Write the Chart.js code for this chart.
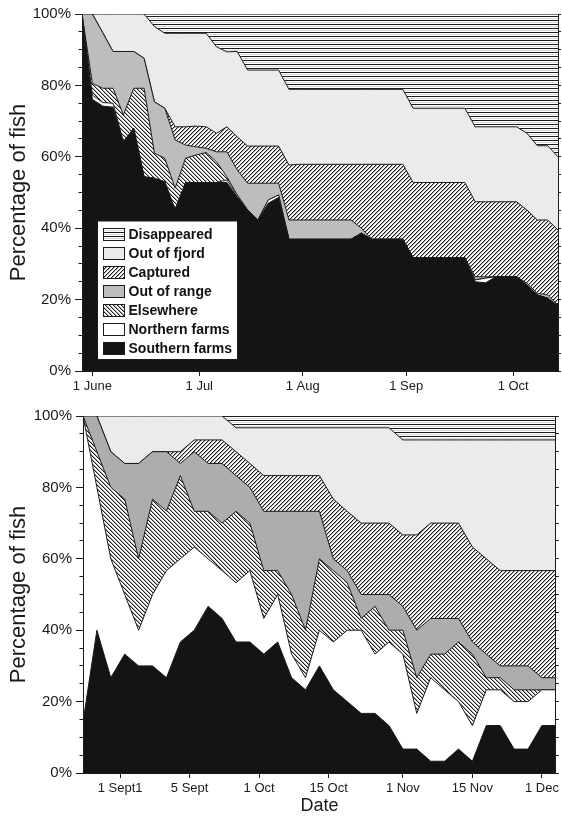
<!DOCTYPE html>
<html><head><meta charset="utf-8">
<script src="https://cdn.jsdelivr.net/npm/chart.js@4.4.1/dist/chart.umd.min.js"></script>
<style>
html,body{margin:0;padding:0;background:#fff;}
#wrap{position:relative;width:562px;height:823px;overflow:hidden;}
#c1{position:absolute;left:0;top:0;width:562px;height:400px;}
#c2{position:absolute;left:0;top:400px;width:562px;height:423px;}
</style></head><body>
<div id="wrap"><canvas id="c1" width="562" height="400"></canvas><canvas id="c2" width="562" height="423"></canvas></div>
<script>
// ---------- DATA ----------
const seriesNames = ["Southern farms","Northern farms","Elsewhere","Out of range","Captured","Out of fjord","Disappeared"];

// Top panel (days since 1 June)
const topDays = [-3,0,3,6,9,12,15,18,21,24,27,30,33,36,39,42,45,48,51,54,57,60,75,78,81,90,93,108,111,114,117,123,126,129,132,135];
const topSouthern = [100,76.1,74.2,73.9,64.2,68.0,54.4,54.0,53.0,45.1,52.8,52.8,52.8,52.8,52.8,48.8,45.1,42.3,47.0,48.6,36.9,36.9,36.9,38.6,36.9,36.9,31.7,31.7,25.0,24.7,26.4,26.4,24.1,21.3,20.4,18.2];
const topNorthern = [0,1.2,1.0,1.1,0,0,0,0,0,0,0,0,0,0,0.7,0.5,0,0,0.9,0.7,0,0,0,0,0,0,0,0,0.5,1.3,0,0,0,0,0,0];
const topElsewhere = [0,3.3,4.0,4.2,7.5,11.2,24.8,7.0,6.6,6.1,6.8,7.7,8.4,5.8,0.9,0,0,0,0,0,0,0,0,0,0,0,0,0,0,0,0,0,0,0,0,0];
const topOutOfRange = [0,19.4,15.6,10.3,17.8,10.3,8.4,14.4,14.0,13.5,3.7,2.3,1.2,2.8,7.0,7.0,7.5,10.3,4.7,3.3,5.4,5.4,5.4,1.4,0,0,0,0,0.9,0.4,0,0,0.5,0.5,0.9,0.3];
const topCaptured = [0,0,0,0,0,0,0,0,0,3.7,5.1,5.8,6.0,5.2,7.0,9.3,10.4,10.4,10.4,10.4,15.4,15.6,15.6,17.9,21.0,21.0,21.1,21.1,21.0,21.0,21.0,21.0,20.5,20.5,21.0,21.0];
const topOutOfFjord = [0,0,5.2,10.5,10.5,10.5,12.4,21.1,21.0,26.2,26.2,26.0,26.2,24.2,21.0,23.9,21.3,21.3,21.3,21.3,21.2,21.0,21.0,21.0,21.0,21.0,20.8,20.8,21.0,21.0,21.0,21.0,21.5,20.8,20.8,20.5];
const topDisappeared = [0,0,0,0,0,0,0,3.5,5.4,5.4,5.4,5.4,5.4,9.2,10.6,10.5,15.7,15.7,15.7,15.7,21.1,21.1,21.1,21.1,21.1,21.1,26.4,26.4,31.6,31.6,31.6,31.6,33.4,36.9,36.9,40.0];
const topTickDays = [0,31,61,91,122];
const topTickLabels = ["1 June","1 Jul","1 Aug","1 Sep","1 Oct"];

// Bottom panel (days since 1 Sept)
const botDays = [-8,-5,-2,1,4,7,10,13,16,19,22,25,28,31,34,37,40,43,46,49,52,55,58,61,64,67,70,73,76,79,82,85,88,91,94];
const botSouthern = [14.3,40,26.7,33.3,30,30,26.7,36.7,40,46.7,43.3,36.7,36.7,33.3,36.7,26.7,23.3,30,23.3,20,16.7,16.7,13.3,6.7,6.7,3.3,3.3,6.7,3.3,13.3,13.3,6.7,6.7,13.3,13.3];
const botNorthern = [85.7,40,33.3,16.7,10,20,30,23.3,23.3,13.3,13.4,16.6,20,10,13.3,6.6,3.4,10,13.4,20,23.3,16.6,23.4,26.6,10,23.4,20,13.3,10,10,10,13.3,13.3,10,10];
const botElsewhere = [0,10,20,26.7,20,26.7,16.7,23.3,10,13.3,13.3,20,13.3,13.4,6.7,16.7,13.3,20,20,13.3,3.3,13.4,3.3,6.7,10,6.6,10,16.7,20,3.4,3.4,3.3,3.3,0,0];
const botOutOfRange = [0,10,10,10,26.7,13.3,16.6,3.4,16.7,13.4,16.7,10,10,16.6,16.6,23.3,33.3,13.3,3.3,3.4,6.7,3.3,10,6.7,13.3,10,10,6.6,3.4,6.6,3.3,6.7,6.7,3.4,3.4];
const botCaptured = [0,0,0,0,0,0,0,3.3,3.3,6.6,6.6,6.7,6.7,10,10,10,10,10,16.7,16.6,20,20,20,20,26.7,26.7,26.7,26.7,26.6,26.7,26.7,26.7,26.7,30,30];
const botOutOfFjord = [0,0,10,13.3,13.3,10,10,10,6.7,6.7,6.7,6.7,10,13.4,13.4,13.4,13.4,13.4,20,23.4,26.7,26.7,26.7,26.6,26.6,23.3,23.3,23.3,30,33.3,36.6,36.6,36.6,36.6,36.6];
const botDisappeared = [0,0,0,0,0,0,0,0,0,0,0,3.3,3.3,3.3,3.3,3.3,3.3,3.3,3.3,3.3,3.3,3.3,3.3,6.7,6.7,6.7,6.7,6.7,6.7,6.7,6.7,6.7,6.7,6.7,6.7];
const botTickDays = [0,15,30,45,61,76,91];
const botTickLabels = ["1 Sept1","5 Sept","1 Oct","15 Oct","1 Nov","15 Nov","1 Dec"];

const yLabelStep = 20;
const yMinorStep = 5;
const yTitle = "Percentage of fish";
const xTitleBottom = "Date";

// ---------- STYLE ----------
const FONT = '"Liberation Sans", Arial, Helvetica, sans-serif';
const INK = '#1a1a1a';
Chart.defaults.font.family = FONT;
Chart.defaults.color = INK;

function makePattern(kind){
  const s = 4;
  const c = document.createElement('canvas'); c.width = s; c.height = s;
  const g = c.getContext('2d');
  g.fillStyle = '#ffffff'; g.fillRect(0,0,s,s);
  for (let x=0;x<s;x++) for (let y=0;y<s;y++){
    let k;
    if (kind==='h') k = y;
    else if (kind==='f') k = (x+y)%s;
    else k = ((x-y)%s+s)%s;
    if (k===0){ g.fillStyle='#1c1c1c'; g.fillRect(x,y,1,1); }
    else if (k===1 && kind!=='h'){ g.fillStyle='#a8a8a8'; g.fillRect(x,y,1,1); }
    else if (k===2 && kind==='h'){ g.fillStyle='#d8d8d8'; g.fillRect(x,y,1,1); }
  }
  return g.createPattern(c,'repeat');
}
const patH = makePattern('h');
const patF = makePattern('f');
const patB = makePattern('b');

function fills(gray){
  return ['#141414', '#ffffff', patB, gray, patF, '#eaebeb', patH];
}

const boxLegend = {
  id: 'boxLegend',
  afterDatasetsDraw(chart, args, opts){
    if (!opts || !opts.show) return;
    const ctx = chart.ctx, a = chart.chartArea;
    const x0 = a.left + 15.5, y1 = a.bottom - 11.5, w = 140, h = 138.5, y0 = y1 - h;
    ctx.save();
    ctx.fillStyle = '#fff'; ctx.fillRect(x0, y0, w, h);
    ctx.strokeStyle = INK; ctx.lineWidth = 1; ctx.strokeRect(x0, y0, w, h);
    const ds = chart.data.datasets.slice().reverse();
    ctx.font = 'bold 14px ' + FONT;
    ctx.textBaseline = 'middle';
    ds.forEach((d, i) => {
      const sy = Math.round(y0 + 7 + i * 19) + 0.5;
      ctx.fillStyle = d.backgroundColor;
      ctx.fillRect(x0 + 6, sy, 21, 12);
      ctx.strokeStyle = INK;
      ctx.strokeRect(x0 + 6, sy, 21, 12);
      ctx.fillStyle = '#111';
      ctx.fillText(d.label, x0 + 31, sy + 6.5);
    });
    ctx.restore();
  }
};

function build(canvasId, days, series, gray, tickDays, tickLabels, layout){
  const colors = fills(gray);
  const datasets = series.map((arr, i) => ({
    label: seriesNames[i],
    data: arr.map((v, j) => ({x: days[j], y: v})),
    backgroundColor: colors[i],
    borderColor: INK,
    borderWidth: 1,
    fill: i === 0 ? 'origin' : '-1',
    pointRadius: 0,
    tension: 0
  }));
  const border = { display: true, color: INK, width: 1, z: 2 };
  return new Chart(document.getElementById(canvasId), {
    type: 'line',
    data: { datasets },
    plugins: [boxLegend],
    options: {
      responsive: false,
      animation: false,
      events: [],
      layout: { padding: { top: layout.top, bottom: 0, left: 0, right: 0 } },
      plugins: {
        legend: { display: false },
        tooltip: { enabled: false },
        boxLegend: { show: layout.legend }
      },
      scales: {
        x: {
          type: 'linear', min: days[0], max: days[days.length-1],
          afterBuildTicks: s => { s.ticks = tickDays.map(v => ({ value: v })); },
          ticks: {
            autoSkip: false, maxRotation: 0, padding: 3,
            font: { size: 13 }, color: INK,
            callback: v => { const k = tickDays.indexOf(v); return k >= 0 ? tickLabels[k] : ''; }
          },
          grid: { drawOnChartArea: false, drawTicks: true, tickLength: 5, color: INK },
          border,
          title: layout.xTitle ? { display: true, text: layout.xTitle, font: { size: 18 }, color: INK, padding: { top: 0, bottom: 6 } } : { display: false },
          afterFit: s => { s.height = layout.xHeight; }
        },
        y: {
          stacked: true, min: 0, max: 100, weight: 1,
          ticks: {
            stepSize: yLabelStep, autoSkip: false, padding: 4,
            font: { size: 15 }, color: INK,
            callback: v => v + '%'
          },
          grid: { drawOnChartArea: false, drawTicks: true, tickLength: 7, color: INK },
          border,
          title: { display: true, text: yTitle, font: { size: 22 }, color: INK, padding: { top: 6, bottom: 0 } },
          afterFit: s => { s.width = layout.left; }
        },
        yMinor: {
          position: 'left', min: 0, max: 100, weight: 0,
          ticks: { stepSize: yMinorStep, autoSkip: false, padding: 0, callback: () => '' },
          grid: { drawOnChartArea: false, drawTicks: true, tickLength: 3.5, color: INK },
          border,
          afterFit: s => { s.width = 0; }
        },
        y2: {
          position: 'right', min: 0, max: 100,
          ticks: { stepSize: yMinorStep, autoSkip: false, padding: 0, callback: () => '' },
          grid: { drawOnChartArea: false, drawTicks: true, tickLength: 3, color: INK },
          border,
          afterFit: s => { s.width = layout.right; }
        }
      }
    }
  });
}

build('c1', topDays,
  [topSouthern, topNorthern, topElsewhere, topOutOfRange, topCaptured, topOutOfFjord, topDisappeared],
  '#bdbdbd', topTickDays, topTickLabels,
  { top: 14, left: 82, right: 4, xHeight: 29, legend: true, xTitle: null });

build('c2', botDays,
  [botSouthern, botNorthern, botElsewhere, botOutOfRange, botCaptured, botOutOfFjord, botDisappeared],
  '#adadad', botTickDays, botTickLabels,
  { top: 16, left: 83, right: 3, xHeight: 50, legend: false, xTitle: xTitleBottom });
</script>
</body></html>
